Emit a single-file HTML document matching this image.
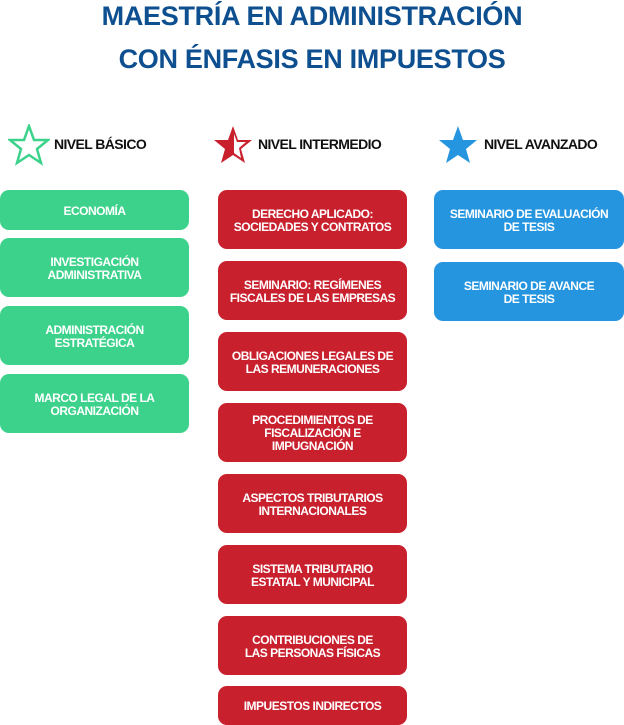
<!DOCTYPE html>
<html><head><meta charset="utf-8"><style>
body{margin:0;width:624px;height:725px;background:#fff;position:relative;overflow:hidden;font-family:"Liberation Sans",sans-serif;}
.t{position:absolute;left:0;width:624px;text-align:center;color:#0d4f8f;font-weight:bold;font-size:27px;letter-spacing:-0.3px;}
.b{position:absolute;border-radius:9px;color:#fff;font-weight:bold;font-size:12px;letter-spacing:-0.5px;display:flex;align-items:center;justify-content:center;text-align:center;line-height:13px;padding-top:2px;box-sizing:border-box;}
.g{background:#3dd28b;left:0;width:189px}
.r{background:#c9202e;left:218px;width:189px}
.u{background:#2595e0;left:434px;width:190px}
.h{position:absolute;top:136px;font-weight:bold;font-size:14px;letter-spacing:-0.6px;color:#111}
svg{position:absolute}
</style></head><body>
<div class="t" style="top:1px">MAESTRÍA EN ADMINISTRACIÓN</div>
<div class="t" style="top:44px">CON ÉNFASIS EN IMPUESTOS</div>

<svg style="left:8px;top:124px" width="42" height="42" viewBox="0 0 42 42"><polygon points="21,2 26,16 40,16 29,25 33,39 21,31 9,39 13,25 2,16 16,16" fill="none" stroke="#3dd28b" stroke-width="2.5" stroke-linejoin="miter"/></svg>
<div class="h" style="left:54px">NIVEL BÁSICO</div>
<svg style="left:212px;top:124px" width="42" height="42" viewBox="0 0 42 42"><polygon points="21,2 26,16 40,16 29,25 33,39 21,31 9,39 13,25 2,16 16,16" fill="#c9202e"/><polygon points="22,10 25,18 34,18 27,24 29,34 22,29" fill="#fff"/></svg>
<div class="h" style="left:258px">NIVEL INTERMEDIO</div>
<svg style="left:437px;top:124px" width="42" height="42" viewBox="0 0 42 42"><polygon points="21,2 26,16 40,16 29,25 33,39 21,31 9,39 13,25 2,16 16,16" fill="#2595e0"/></svg>
<div class="h" style="left:484px">NIVEL AVANZADO</div>

<div class="b g" style="top:190px;height:40px">ECONOMÍA</div>
<div class="b g" style="top:238px;height:59px">INVESTIGACIÓN<br>ADMINISTRATIVA</div>
<div class="b g" style="top:306px;height:59px">ADMINISTRACIÓN<br>ESTRATÉGICA</div>
<div class="b g" style="top:374px;height:59px">MARCO LEGAL DE LA<br>ORGANIZACIÓN</div>

<div class="b r" style="top:190px;height:59px">DERECHO APLICADO:<br>SOCIEDADES Y CONTRATOS</div>
<div class="b r" style="top:261px;height:59px">SEMINARIO: REGÍMENES<br>FISCALES DE LAS EMPRESAS</div>
<div class="b r" style="top:332px;height:59px">OBLIGACIONES LEGALES DE<br>LAS REMUNERACIONES</div>
<div class="b r" style="top:403px;height:59px">PROCEDIMIENTOS DE<br>FISCALIZACIÓN E<br>IMPUGNACIÓN</div>
<div class="b r" style="top:474px;height:59px">ASPECTOS TRIBUTARIOS<br>INTERNACIONALES</div>
<div class="b r" style="top:545px;height:59px">SISTEMA TRIBUTARIO<br>ESTATAL Y MUNICIPAL</div>
<div class="b r" style="top:616px;height:59px">CONTRIBUCIONES DE<br>LAS PERSONAS FÍSICAS</div>
<div class="b r" style="top:686px;height:39px">IMPUESTOS INDIRECTOS</div>

<div class="b u" style="top:190px;height:59px">SEMINARIO DE EVALUACIÓN<br>DE TESIS</div>
<div class="b u" style="top:262px;height:59px">SEMINARIO DE AVANCE<br>DE TESIS</div>
</body></html>
